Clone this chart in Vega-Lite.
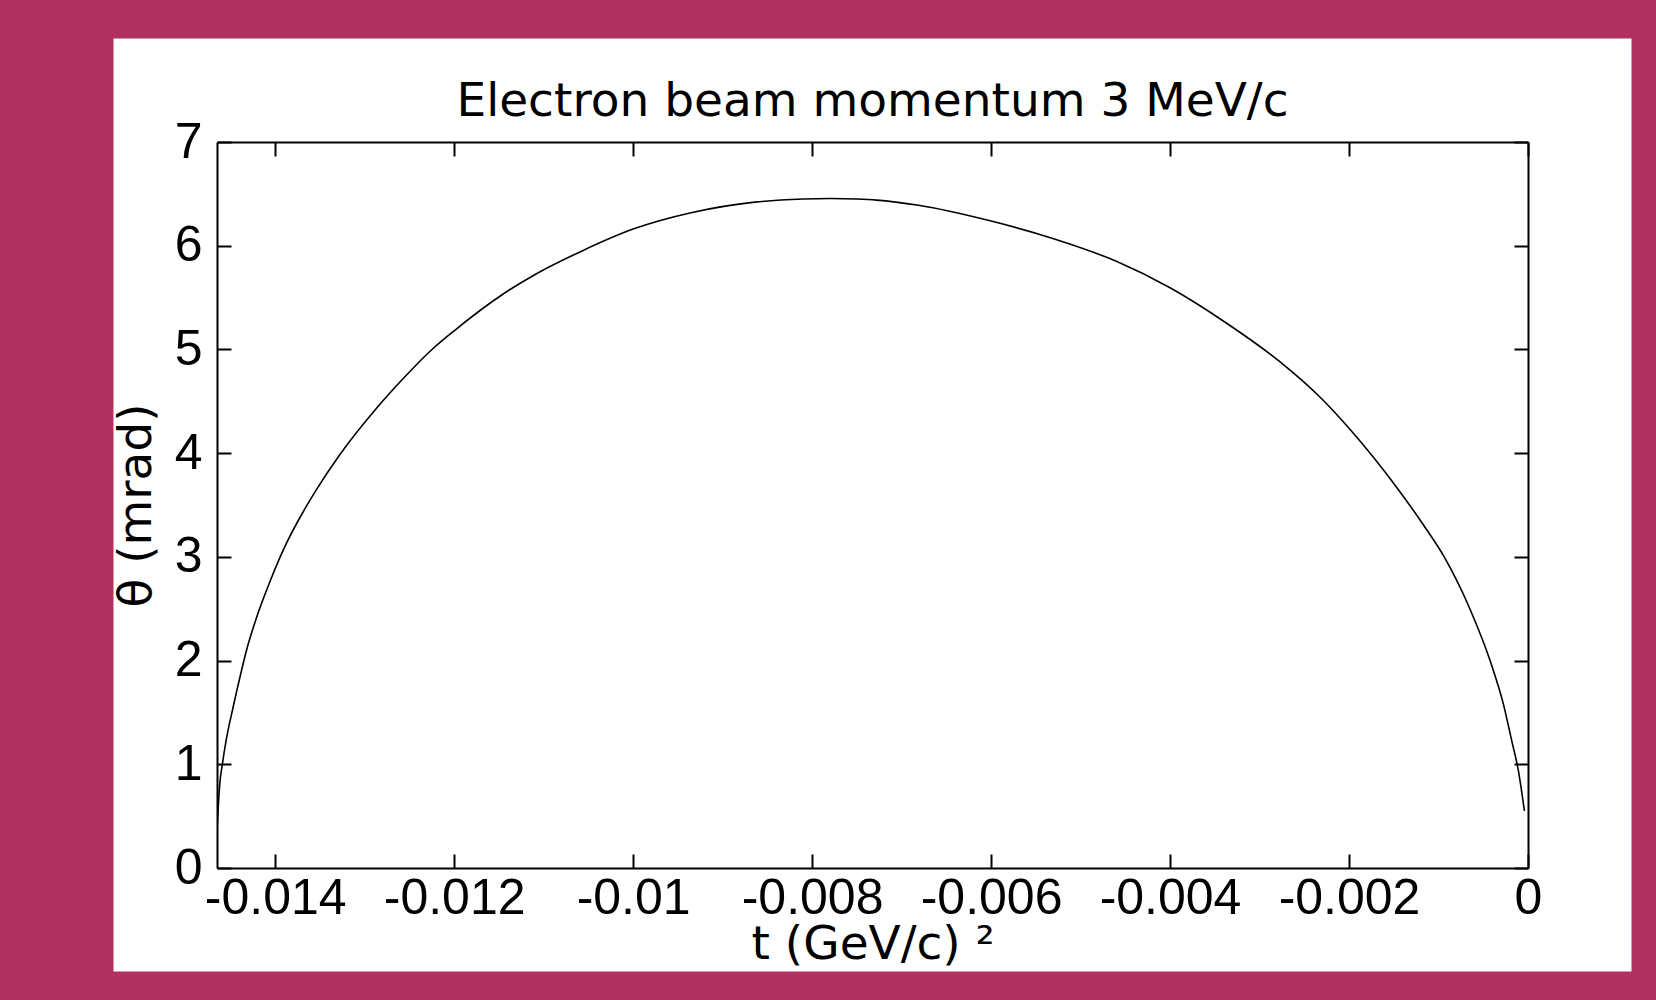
{
  "$schema": "https://vega.github.io/schema/vega-lite/v6.json",
  "width": 1311,
  "height": 726,
  "autosize": {"type": "none"},
  "padding": {"left": 217, "top": 142, "right": 128, "bottom": 132},
  "background": "#B03060",
  "title": {
    "text": "Electron beam momentum 3 MeV/c",
    "font": "DejaVu Sans",
    "fontSize": 47,
    "fontWeight": "normal",
    "color": "black",
    "anchor": "middle",
    "frame": "group",
    "baseline": "alphabetic",
    "offset": -46
  },
  "config": {
    "view": {"stroke": "white", "strokeWidth": 207, "fill": "white"},
    "axis": {
      "grid": false,
      "domainColor": "black",
      "domainWidth": 2,
      "tickColor": "black",
      "tickWidth": 2,
      "tickSize": -14,
      "labelFont": "Liberation Sans",
      "labelFontSize": 50,
      "labelColor": "black",
      "titleFont": "DejaVu Sans",
      "titleFontSize": 47,
      "titleFontWeight": "normal",
      "titleColor": "black"
    }
  },
  "data": {
    "values": [
      {"t": -0.01465, "theta": 0.37},
      {"t": -0.014618, "theta": 0.82},
      {"t": -0.01459, "theta": 1.0},
      {"t": -0.01455, "theta": 1.22},
      {"t": -0.01447, "theta": 1.55},
      {"t": -0.01438, "theta": 1.89},
      {"t": -0.01432, "theta": 2.1},
      {"t": -0.01419, "theta": 2.46},
      {"t": -0.01405, "theta": 2.78},
      {"t": -0.01388, "theta": 3.12},
      {"t": -0.01369, "theta": 3.43},
      {"t": -0.01353, "theta": 3.66},
      {"t": -0.01329, "theta": 3.97},
      {"t": -0.01287, "theta": 4.43},
      {"t": -0.01259, "theta": 4.7},
      {"t": -0.01226, "theta": 4.99},
      {"t": -0.012, "theta": 5.18},
      {"t": -0.01146, "theta": 5.53},
      {"t": -0.01108, "theta": 5.73},
      {"t": -0.01057, "theta": 5.95},
      {"t": -0.01, "theta": 6.16},
      {"t": -0.00934, "theta": 6.32},
      {"t": -0.00864, "theta": 6.42},
      {"t": -0.0081, "theta": 6.45},
      {"t": -0.0078, "theta": 6.455},
      {"t": -0.0075, "theta": 6.45},
      {"t": -0.00728, "theta": 6.44},
      {"t": -0.00681, "theta": 6.39},
      {"t": -0.00601, "theta": 6.24},
      {"t": -0.00531, "theta": 6.07},
      {"t": -0.0046, "theta": 5.85},
      {"t": -0.00399, "theta": 5.59},
      {"t": -0.00338, "theta": 5.26},
      {"t": -0.00277, "theta": 4.88},
      {"t": -0.0023, "theta": 4.52},
      {"t": -0.00199, "theta": 4.23},
      {"t": -0.00145, "theta": 3.65},
      {"t": -0.00117, "theta": 3.31},
      {"t": -0.00093, "theta": 2.99},
      {"t": -0.00065, "theta": 2.5},
      {"t": -0.00042, "theta": 1.99},
      {"t": -0.000275, "theta": 1.58},
      {"t": -0.00018, "theta": 1.22},
      {"t": -0.00011, "theta": 0.95},
      {"t": -0.00004, "theta": 0.55}
    ]
  },
  "layer": [
    {
      "mark": {"type": "line", "color": "black", "strokeWidth": 1.6, "clip": true, "interpolate": "monotone"},
      "encoding": {
        "x": {
          "field": "t",
          "type": "quantitative",
          "scale": {"domain": [-0.01465, 0], "nice": false, "zero": false},
          "axis": {
            "orient": "bottom",
            "values": [-0.014, -0.012, -0.01, -0.008, -0.006, -0.004, -0.002, 0],
            "labelExpr": "toString(datum.value)",
            "labelPadding": 19,
            "labelFlush": false,
            "labelOverlap": false,
            "title": "t (GeV/c) ²",
            "titlePadding": -2
          }
        },
        "y": {
          "field": "theta",
          "type": "quantitative",
          "scale": {"domain": [0, 7], "nice": false},
          "axis": {
            "orient": "left",
            "values": [0, 1, 2, 3, 4, 5, 6, 7],
            "labelPadding": 29,
            "labelFlush": false,
            "labelOverlap": false,
            "title": "θ (mrad)",
            "titlePadding": 14
          }
        }
      }
    },
    {
      "mark": {"type": "line", "strokeOpacity": 0},
      "encoding": {
        "x": {
          "field": "t",
          "type": "quantitative",
          "scale": {"domain": [-0.01465, 0], "nice": false, "zero": false},
          "axis": {
            "orient": "top",
            "values": [-0.014, -0.012, -0.01, -0.008, -0.006, -0.004, -0.002, 0],
            "labels": false,
            "title": null
          }
        },
        "y": {
          "field": "theta",
          "type": "quantitative",
          "scale": {"domain": [0, 7], "nice": false},
          "axis": {
            "orient": "right",
            "values": [0, 1, 2, 3, 4, 5, 6, 7],
            "labels": false,
            "title": null
          }
        }
      }
    }
  ],
  "resolve": {"axis": {"x": "independent", "y": "independent"}}
}
